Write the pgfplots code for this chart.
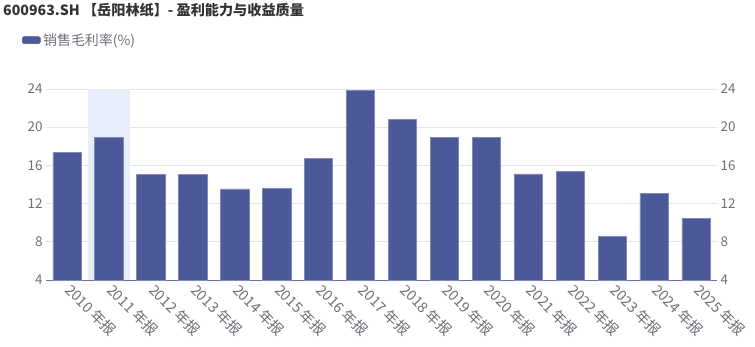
\documentclass[border=0pt]{standalone}
\usepackage{fontspec}
\setmainfont{Noto Sans CJK SC}
\usepackage{pgfplots}
\pgfplotsset{compat=1.18}
\definecolor{barc}{HTML}{4B5899}
\definecolor{gridc}{HTML}{E0E6F1}
\definecolor{txtc}{HTML}{6E7079}
\definecolor{hl}{HTML}{E6EDFB}
\definecolor{titc}{HTML}{333333}
\begin{document}
\begin{tikzpicture}[x=1bp,y=1bp]
\useasboundingbox (0,0) rectangle (755,346);
\node[anchor=base west, font=\bfseries\fontsize{14.2}{15}\selectfont, text=titc, inner sep=0] at (3,331) {600963.SH 【岳阳林纸】- 盈利能力与收益质量};
\begin{axis}[at={(46bp,66bp)}, anchor=south west, width=671bp, height=191bp, scale only axis,
  xmin=-0.5, xmax=15.5, ymin=4, ymax=24, ytick={4,8,...,24},
  xtick={0,...,15},
  xticklabels={2010 年报,2011 年报,2012 年报,2013 年报,2014 年报,2015 年报,2016 年报,2017 年报,2018 年报,2019 年报,2020 年报,2021 年报,2022 年报,2023 年报,2024 年报,2025 年报},
  axis lines*=left, y axis line style={draw=none},
  x axis line style={draw=barc!85!white, line width=1bp, -},
  major tick length=0,
  ymajorgrids, grid style={gridc, line width=0.8bp},
  /pgf/number format/assume math mode=true,
  xticklabel style={xshift=6bp, yshift=-1bp, rotate=-45, anchor=north west, font=\fontsize{14.5}{14.5}\selectfont, text=txtc, inner sep=1bp},
  yticklabel style={font=\fontsize{13.5}{13.5}\selectfont, text=txtc},
  legend style={draw=none, fill=none, at={(axis description cs:-0.036,1.256)}, anchor=west, font=\fontsize{14}{14}\selectfont, text=txtc, inner sep=0pt, nodes={inner sep=2.5bp}},
  legend image code/.code={\fill[barc, rounded corners=1.5bp] (0bp,-3.5bp) rectangle (18bp,3.5bp);},
  clip=true,
]
\addplot[ybar, bar shift=0pt, bar width=41.9bp, fill=hl, draw=none, forget plot] coordinates {(1,24)};
\addplot[ybar, bar shift=0pt, bar width=28.3bp, fill=barc, draw=barc!70!white, line width=0.6bp] coordinates {
(0,17.33) (1,18.94) (2,15.07) (3,15.03) (4,13.53) (5,13.60) (6,16.77) (7,23.86)
(8,20.79) (9,18.90) (10,18.97) (11,15.10) (12,15.41) (13,8.57) (14,13.10) (15,10.49)};
\addlegendentry{销售毛利率(\%)}
\end{axis}
\begin{axis}[at={(46bp,66bp)}, anchor=south west, width=671bp, height=191bp, scale only axis,
  xmin=-0.5, xmax=15.5, ymin=4, ymax=24, ytick={4,8,...,24},
  hide x axis, axis y line*=right, y axis line style={draw=none}, major tick length=0,
  /pgf/number format/assume math mode=true,
  yticklabel style={font=\fontsize{13.5}{13.5}\selectfont, text=txtc},
]
\addplot[draw=none] coordinates {(0,4)};
\end{axis}
\end{tikzpicture}
\end{document}
